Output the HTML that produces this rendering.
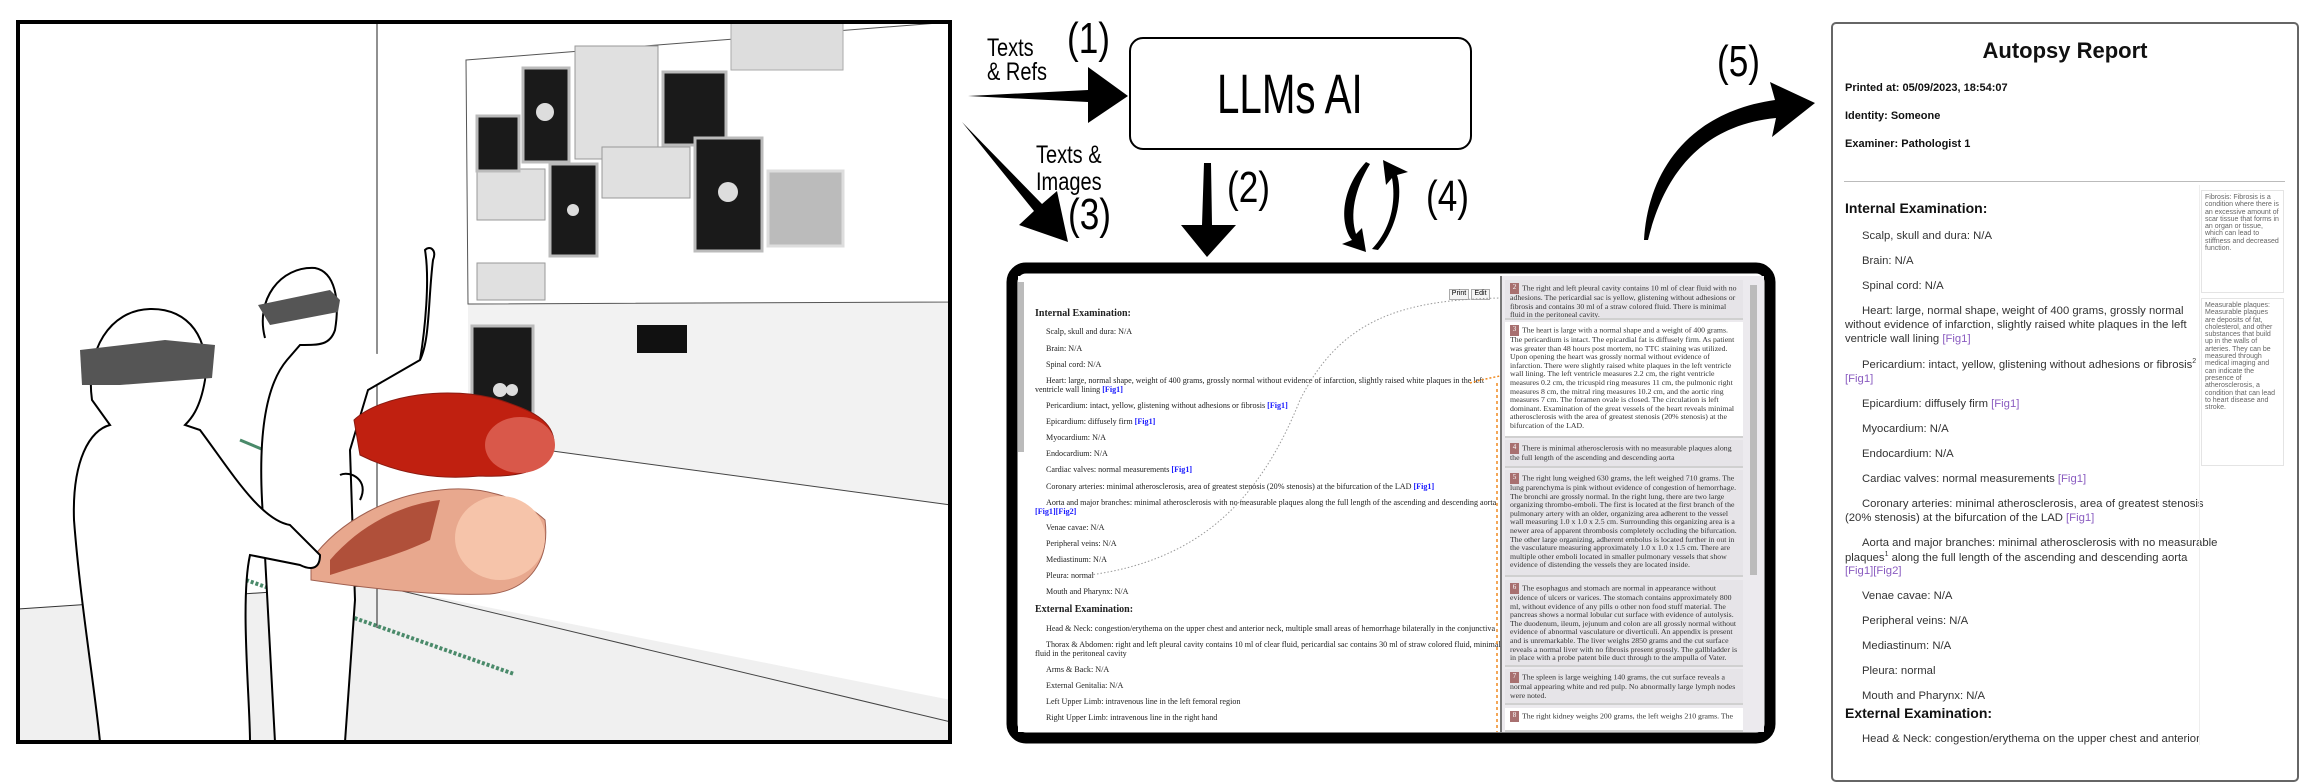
<!DOCTYPE html>
<html><head><meta charset="utf-8">
<style>
*{margin:0;padding:0;box-sizing:border-box}
body{width:2316px;height:751px;background:#fff;position:relative;overflow:hidden;font-family:"Liberation Sans",sans-serif}
.a{position:absolute;white-space:nowrap}
.lbl{font-family:"Liberation Sans",sans-serif;color:#000}
.cn{transform:scaleX(0.8);transform-origin:left top}
.doc{position:absolute;font-family:"Liberation Serif",serif;font-size:8.1px;color:#222;line-height:9px}
.doc .l{position:absolute;white-space:nowrap}
.b{color:#1a1aff;font-weight:bold}
.card{position:absolute;left:1505px;width:238px;background:#e6e4e8;font-family:"Liberation Serif",serif;font-size:7.8px;line-height:8.6px;color:#333;padding:3px 5px;border-bottom:2px solid #d0d0d0;overflow:hidden}
.bd{display:inline-block;width:9px;height:11px;background:#a87070;color:#fff;font-size:7px;text-align:center;margin-right:3px;vertical-align:middle}
.rp{position:absolute;font-size:11.3px;color:#333;white-space:nowrap}
.fg{color:#8a5cc0}
.note{position:absolute;left:2201px;width:83px;border:1px solid #e4e4e4;font-size:7px;line-height:7.3px;color:#666;padding:3px;overflow:hidden}
</style></head><body>

<svg class="a" style="left:0;top:0" width="960" height="751">
  <polygon points="18,609 377,585 951,700 951,742 18,742" fill="#f0f0f0"/>
  <polygon points="468,304 951,302 951,505 545,450 468,430" fill="#f2f2f2"/>
  <line x1="377" y1="22" x2="377" y2="628" stroke="#222" stroke-width="1"/>
  <line x1="18" y1="609" x2="377" y2="585" stroke="#333" stroke-width="1"/>
  <line x1="377" y1="585" x2="951" y2="722" stroke="#444" stroke-width="1"/>
  <line x1="545" y1="450" x2="951" y2="505" stroke="#444" stroke-width="1"/>
  <polygon points="466,60 951,22 951,302 468,304" fill="#fff" stroke="#555" stroke-width="1"/>
  <rect x="731" y="22" width="112" height="48" fill="#ddd" stroke="#aaa"/>
  <rect x="575" y="46" width="83" height="113" fill="#e0e0e0" stroke="#999"/>
  <rect x="477" y="169" width="68" height="51" fill="#e0e0e0" stroke="#999"/>
  <rect x="602" y="147" width="88" height="51" fill="#e0e0e0" stroke="#999"/>
  <rect x="477" y="263" width="68" height="37" fill="#e0e0e0" stroke="#999"/>
  <g fill="#1a1a1a" stroke="#bbb" stroke-width="3">
  <rect x="523" y="68" width="46" height="94"/>
  <rect x="663" y="72" width="63" height="73"/>
  <rect x="477" y="116" width="42" height="55"/>
  <rect x="550" y="164" width="47" height="92"/>
  <rect x="695" y="138" width="67" height="113"/>
  <rect x="472" y="326" width="61" height="89"/>
  </g>
  <rect x="768" y="171" width="75" height="75" fill="#bbb" stroke="#ddd" stroke-width="3"/>
  <rect x="637" y="325" width="50" height="28" fill="#111"/>
  <g fill="#ddd"><circle cx="545" cy="112" r="9"/><circle cx="573" cy="210" r="6"/><circle cx="728" cy="192" r="10"/><circle cx="500" cy="390" r="7"/><circle cx="512" cy="390" r="6"/></g>
  <line x1="246" y1="580" x2="514" y2="674" stroke="#4a8a6a" stroke-width="4" stroke-dasharray="3,2"/>
  <line x1="240" y1="440" x2="300" y2="465" stroke="#4a8a6a" stroke-width="3"/>
  <path d="M265,338 C255,300 280,266 315,268 C335,272 340,300 335,330 C330,345 320,345 300,345 L287,360 C270,380 258,420 262,500 L275,742 L345,742 L355,600 L350,450 L368,390 L420,360 C425,330 430,280 425,250 C430,245 437,250 433,260 C428,300 430,340 420,360" fill="#fff" stroke="#000" stroke-width="2"/>
  <path d="M258,305 L330,290 L340,300 L338,312 L270,325 Z" fill="#555"/>
  <path d="M354,420 C380,395 450,385 500,400 C530,410 555,420 554,445 C550,470 520,478 480,476 C430,481 390,470 360,455 Z" fill="#c02010" stroke="#8a1a10"/>
  <ellipse cx="520" cy="445" rx="35" ry="28" fill="#d9584a"/>
  <path d="M311,560 C340,520 390,495 440,490 C480,485 520,497 545,520 C550,560 530,590 490,594 C440,596 380,590 311,580 Z" fill="#e8a88e" stroke="#a06050"/>
  <ellipse cx="500" cy="538" rx="45" ry="42" fill="#f6c4aa"/>
  <path d="M330,560 C360,525 400,505 440,500 L430,540 C400,555 360,565 330,575Z" fill="#b0503a"/>
  <path d="M92,400 C85,350 110,310 150,309 C190,308 210,340 205,380 C200,410 190,420 185,425 L200,430 C230,470 260,520 290,525 L320,555 C320,570 310,570 300,565 L250,555 C240,600 250,700 250,742 L100,742 C95,690 80,600 74,520 C72,460 90,430 110,425 Z" fill="#fff" stroke="#000" stroke-width="2"/>
  <path d="M80,350 L165,340 L215,345 L212,378 L120,385 L82,385 Z" fill="#555"/>
  <path d="M340,475 C350,470 370,480 360,500" fill="none" stroke="#000" stroke-width="2"/>
  <rect x="18" y="22" width="932" height="720" fill="none" stroke="#000" stroke-width="4"/>
</svg>

<svg class="a" style="left:0;top:0" width="2316" height="751">
  <polygon points="968,96 1088,90 1088,67 1128,96 1088,123 1088,102" fill="#000"/>
  <polygon points="962,122 1042,204 1057,191 1068,242 1019,225 1034,211" fill="#000"/>
  <polygon points="1204,163 1211,163 1212,225 1236,225 1207,257 1181,225 1202,225" fill="#000"/>
  <path d="M1366,162 C1340,190 1340,225 1352,240 L1342,244 L1366,252 L1362,228 L1356,234 C1350,215 1354,190 1370,164 Z" fill="#000"/>
  <path d="M1378,250 C1400,225 1402,190 1397,175 L1408,172 L1383,160 L1386,185 L1392,178 C1396,200 1392,228 1372,249 Z" fill="#000"/>
  <path d="M1644,240 C1648,170 1690,112 1775,100 L1770,82 L1815,103 L1772,137 L1776,118 C1705,125 1665,170 1648,240 Z" fill="#000"/>
  <rect x="1012" y="268" width="758" height="470" rx="14" fill="none" stroke="#000" stroke-width="11"/>
</svg>

<div class="a lbl cn" style="left:987px;top:36px;font-size:25px;line-height:24px">Texts<br>&amp; Refs</div>
<div class="a lbl cn" style="left:1067px;top:14px;font-size:44px">(1)</div>
<div class="a" style="left:1129px;top:37px;width:343px;height:113px;border:2px solid #000;border-radius:14px"></div>
<div class="a" style="left:1217px;top:64px;font-size:56px;line-height:60px;transform:scaleX(0.72);transform-origin:left top">LLMs AI</div>
<div class="a lbl cn" style="left:1036px;top:142px;font-size:25px;line-height:27px;text-align:center">Texts &amp;<br>Images</div>
<div class="a lbl cn" style="left:1068px;top:190px;font-size:44px">(3)</div>
<div class="a lbl cn" style="left:1227px;top:163px;font-size:44px">(2)</div>
<div class="a lbl cn" style="left:1426px;top:172px;font-size:44px">(4)</div>
<div class="a lbl cn" style="left:1717px;top:37px;font-size:44px">(5)</div>

<div class="a" style="left:1018px;top:276px;width:746px;height:456px;background:#fff"></div>
<div class="a" style="left:1018px;top:282px;width:6px;height:170px;background:#bbb"></div>
<div class="a" style="left:1500px;top:276px;width:2px;height:456px;background:#777"></div>
<div class="a" style="left:1502px;top:276px;width:262px;height:456px;background:#eceaee"></div>
<div class="a" style="left:1750px;top:285px;width:7px;height:290px;background:#bbb"></div>
<div class="a" style="left:1449px;top:289px;width:20px;height:11px;border:1px solid #aaa;font-size:7px;text-align:center;background:#f4f4f4">Print</div>
<div class="a" style="left:1471px;top:289px;width:19px;height:11px;border:1px solid #aaa;font-size:7px;text-align:center;background:#f4f4f4">Edit</div>
<div class="doc">
<div class="l" style="left:1035px;top:309px;font-weight:bold;font-size:10px">Internal Examination:</div>
<div class="l" style="left:1046px;top:327px">Scalp, skull and dura: N/A</div>
<div class="l" style="left:1046px;top:344px">Brain: N/A</div>
<div class="l" style="left:1046px;top:360px">Spinal cord: N/A</div>
<div class="l" style="left:1046px;top:376px">Heart: large, normal shape, weight of 400 grams, grossly normal without evidence of infarction, slightly raised white plaques in the left</div>
<div class="l" style="left:1035px;top:385px">ventricle wall lining <span class="b">[Fig1]</span></div>
<div class="l" style="left:1046px;top:401px">Pericardium: intact, yellow, glistening without adhesions or fibrosis <span class="b">[Fig1]</span></div>
<div class="l" style="left:1046px;top:417px">Epicardium: diffusely firm <span class="b">[Fig1]</span></div>
<div class="l" style="left:1046px;top:433px">Myocardium: N/A</div>
<div class="l" style="left:1046px;top:449px">Endocardium: N/A</div>
<div class="l" style="left:1046px;top:465px">Cardiac valves: normal measurements <span class="b">[Fig1]</span></div>
<div class="l" style="left:1046px;top:482px">Coronary arteries: minimal atherosclerosis, area of greatest stenosis (20% stenosis) at the bifurcation of the LAD <span class="b">[Fig1]</span></div>
<div class="l" style="left:1046px;top:498px">Aorta and major branches: minimal atherosclerosis with no measurable plaques along the full length of the ascending and descending aorta</div>
<div class="l" style="left:1035px;top:507px"><span class="b">[Fig1][Fig2]</span></div>
<div class="l" style="left:1046px;top:523px">Venae cavae: N/A</div>
<div class="l" style="left:1046px;top:539px">Peripheral veins: N/A</div>
<div class="l" style="left:1046px;top:555px">Mediastinum: N/A</div>
<div class="l" style="left:1046px;top:571px">Pleura: normal</div>
<div class="l" style="left:1046px;top:587px">Mouth and Pharynx: N/A</div>
<div class="l" style="left:1035px;top:605px;font-weight:bold;font-size:10px">External Examination:</div>
<div class="l" style="left:1046px;top:624px">Head &amp; Neck: congestion/erythema on the upper chest and anterior neck, multiple small areas of hemorrhage bilaterally in the conjunctiva</div>
<div class="l" style="left:1046px;top:640px">Thorax &amp; Abdomen: right and left pleural cavity contains 10 ml of clear fluid, pericardial sac contains 30 ml of straw colored fluid, minimal</div>
<div class="l" style="left:1035px;top:649px">fluid in the peritoneal cavity</div>
<div class="l" style="left:1046px;top:665px">Arms &amp; Back: N/A</div>
<div class="l" style="left:1046px;top:681px">External Genitalia: N/A</div>
<div class="l" style="left:1046px;top:697px">Left Upper Limb: intravenous line in the left femoral region</div>
<div class="l" style="left:1046px;top:713px">Right Upper Limb: intravenous line in the right hand</div>
</div>
<div class="card" style="top:280px;height:40px"><span class="bd">2</span>The right and left pleural cavity contains 10 ml of clear fluid with no adhesions. The pericardial sac is yellow, glistening without adhesions or fibrosis and contains 30 ml of a straw colored fluid. There is minimal fluid in the peritoneal cavity.</div>
<div class="card" style="top:322px;height:116px;background:#fff"><span class="bd">3</span>The heart is large with a normal shape and a weight of 400 grams. The pericardium is intact. The epicardial fat is diffusely firm. As patient was greater than 48 hours post mortem, no TTC staining was utilized. Upon opening the heart was grossly normal without evidence of infarction. There were slightly raised white plaques in the left ventricle wall lining. The left ventricle measures 2.2 cm, the right ventricle measures 0.2 cm, the tricuspid ring measures 11 cm, the pulmonic right measures 8 cm, the mitral ring measures 10.2 cm, and the aortic ring measures 7 cm. The foramen ovale is closed. The circulation is left dominant. Examination of the great vessels of the heart reveals minimal atherosclerosis with the area of greatest stenosis (20% stenosis) at the bifurcation of the LAD.</div>
<div class="card" style="top:440px;height:28px"><span class="bd">4</span>There is minimal atherosclerosis with no measurable plaques along the full length of the ascending and descending aorta</div>
<div class="card" style="top:470px;height:107px"><span class="bd">5</span>The right lung weighed 630 grams, the left weighed 710 grams. The lung parenchyma is pink without evidence of congestion of hemorrhage. The bronchi are grossly normal. In the right lung, there are two large organizing thrombo-emboli. The first is located at the first branch of the pulmonary artery with an older, organizing area adherent to the vessel wall measuring 1.0 x 1.0 x 2.5 cm. Surrounding this organizing area is a newer area of apparent thrombosis completely occluding the bifurcation. The other large organizing, adherent embolus is located further in out in the vasculature measuring approximately 1.0 x 1.0 x 1.5 cm. There are multiple other emboli located in smaller pulmonary vessels that show evidence of distending the vessels they are located inside.</div>
<div class="card" style="top:580px;height:87px"><span class="bd">6</span>The esophagus and stomach are normal in appearance without evidence of ulcers or varices. The stomach contains approximately 800 ml, without evidence of any pills o other non food stuff material. The pancreas shows a normal lobular cut surface with evidence of autolysis. The duodenum, ileum, jejunum and colon are all grossly normal without evidence of abnormal vasculature or diverticuli. An appendix is present and is unremarkable. The liver weighs 2850 grams and the cut surface reveals a normal liver with no fibrosis present grossly. The gallbladder is in place with a probe patent bile duct through to the ampulla of Vater.</div>
<div class="card" style="top:669px;height:36px"><span class="bd">7</span>The spleen is large weighing 140 grams, the cut surface reveals a normal appearing white and red pulp. No abnormally large lymph nodes were noted.</div>
<div class="card" style="top:708px;height:24px;background:#fff"><span class="bd">8</span>The right kidney weighs 200 grams, the left weighs 210 grams. The</div>
<svg class="a" style="left:0;top:0" width="2316" height="751">
  <path d="M1470,383 C1480,380 1490,378 1500,376" stroke="#f08a20" stroke-width="1.5" fill="none" stroke-dasharray="2,2"/>
  <path d="M1497,383 L1497,732" stroke="#f08a20" stroke-width="1.5" fill="none" stroke-dasharray="3,3"/>
  <path d="M1090,575 C1200,560 1260,500 1300,400 C1340,320 1400,300 1500,298" stroke="#999" stroke-width="1" fill="none" stroke-dasharray="1.5,2"/>
</svg>

<div class="a" style="left:1831px;top:22px;width:468px;height:760px;border:2px solid #666;border-radius:5px;background:#fff"></div>
<div class="a" style="left:1831px;top:38px;width:468px;text-align:center;font-size:22px;font-weight:bold;color:#111">Autopsy Report</div>
<div class="rp" style="left:1845px;top:82px;font-weight:bold;font-size:11px;color:#111">Printed at: 05/09/2023, 18:54:07</div>
<div class="rp" style="left:1845px;top:110px;font-weight:bold;font-size:11px;color:#111">Identity: Someone</div>
<div class="rp" style="left:1845px;top:138px;font-weight:bold;font-size:11px;color:#111">Examiner: Pathologist 1</div>
<div class="a" style="left:1844px;top:181px;width:441px;height:1px;background:#bbb"></div>
<div class="rp" style="left:1845px;top:200px;font-weight:bold;font-size:14px;color:#111">Internal Examination:</div>
<div class="rp" style="left:1862px;top:230px">Scalp, skull and dura: N/A</div>
<div class="rp" style="left:1862px;top:255px">Brain: N/A</div>
<div class="rp" style="left:1862px;top:280px">Spinal cord: N/A</div>
<div class="rp" style="left:1862px;top:305px">Heart: large, normal shape, weight of 400 grams, grossly normal</div>
<div class="rp" style="left:1845px;top:319px">without evidence of infarction, slightly raised white plaques in the left</div>
<div class="rp" style="left:1845px;top:333px">ventricle wall lining <span class="fg">[Fig1]</span></div>
<div class="rp" style="left:1862px;top:358px">Pericardium: intact, yellow, glistening without adhesions or fibrosis<sup style="font-size:7px">2</sup></div>
<div class="rp" style="left:1845px;top:373px"><span class="fg">[Fig1]</span></div>
<div class="rp" style="left:1862px;top:398px">Epicardium: diffusely firm <span class="fg">[Fig1]</span></div>
<div class="rp" style="left:1862px;top:423px">Myocardium: N/A</div>
<div class="rp" style="left:1862px;top:448px">Endocardium: N/A</div>
<div class="rp" style="left:1862px;top:473px">Cardiac valves: normal measurements <span class="fg">[Fig1]</span></div>
<div class="rp" style="left:1862px;top:498px">Coronary arteries: minimal atherosclerosis, area of greatest stenosis</div>
<div class="rp" style="left:1845px;top:512px">(20% stenosis) at the bifurcation of the LAD <span class="fg">[Fig1]</span></div>
<div class="rp" style="left:1862px;top:537px">Aorta and major branches: minimal atherosclerosis with no measurable</div>
<div class="rp" style="left:1845px;top:551px">plaques<sup style="font-size:7px">1</sup> along the full length of the ascending and descending aorta</div>
<div class="rp" style="left:1845px;top:565px"><span class="fg">[Fig1][Fig2]</span></div>
<div class="rp" style="left:1862px;top:590px">Venae cavae: N/A</div>
<div class="rp" style="left:1862px;top:615px">Peripheral veins: N/A</div>
<div class="rp" style="left:1862px;top:640px">Mediastinum: N/A</div>
<div class="rp" style="left:1862px;top:665px">Pleura: normal</div>
<div class="rp" style="left:1862px;top:690px">Mouth and Pharynx: N/A</div>
<div class="rp" style="left:1845px;top:705px;font-weight:bold;font-size:14px;color:#111">External Examination:</div>
<div class="rp" style="left:1862px;top:733px">Head &amp; Neck: congestion/erythema on the upper chest and anterior</div>
<div class="note" style="top:190px;height:103px">Fibrosis: Fibrosis is a condition where there is an excessive amount of scar tissue that forms in an organ or tissue, which can lead to stiffness and decreased function.</div>
<div class="note" style="top:298px;height:168px">Measurable plaques: Measurable plaques are deposits of fat, cholesterol, and other substances that build up in the walls of arteries. They can be measured through medical imaging and can indicate the presence of atherosclerosis, a condition that can lead to heart disease and stroke.</div>
<div class="a" style="left:2199px;top:185px;width:1px;height:560px;background:#eee"></div>
</body></html>
